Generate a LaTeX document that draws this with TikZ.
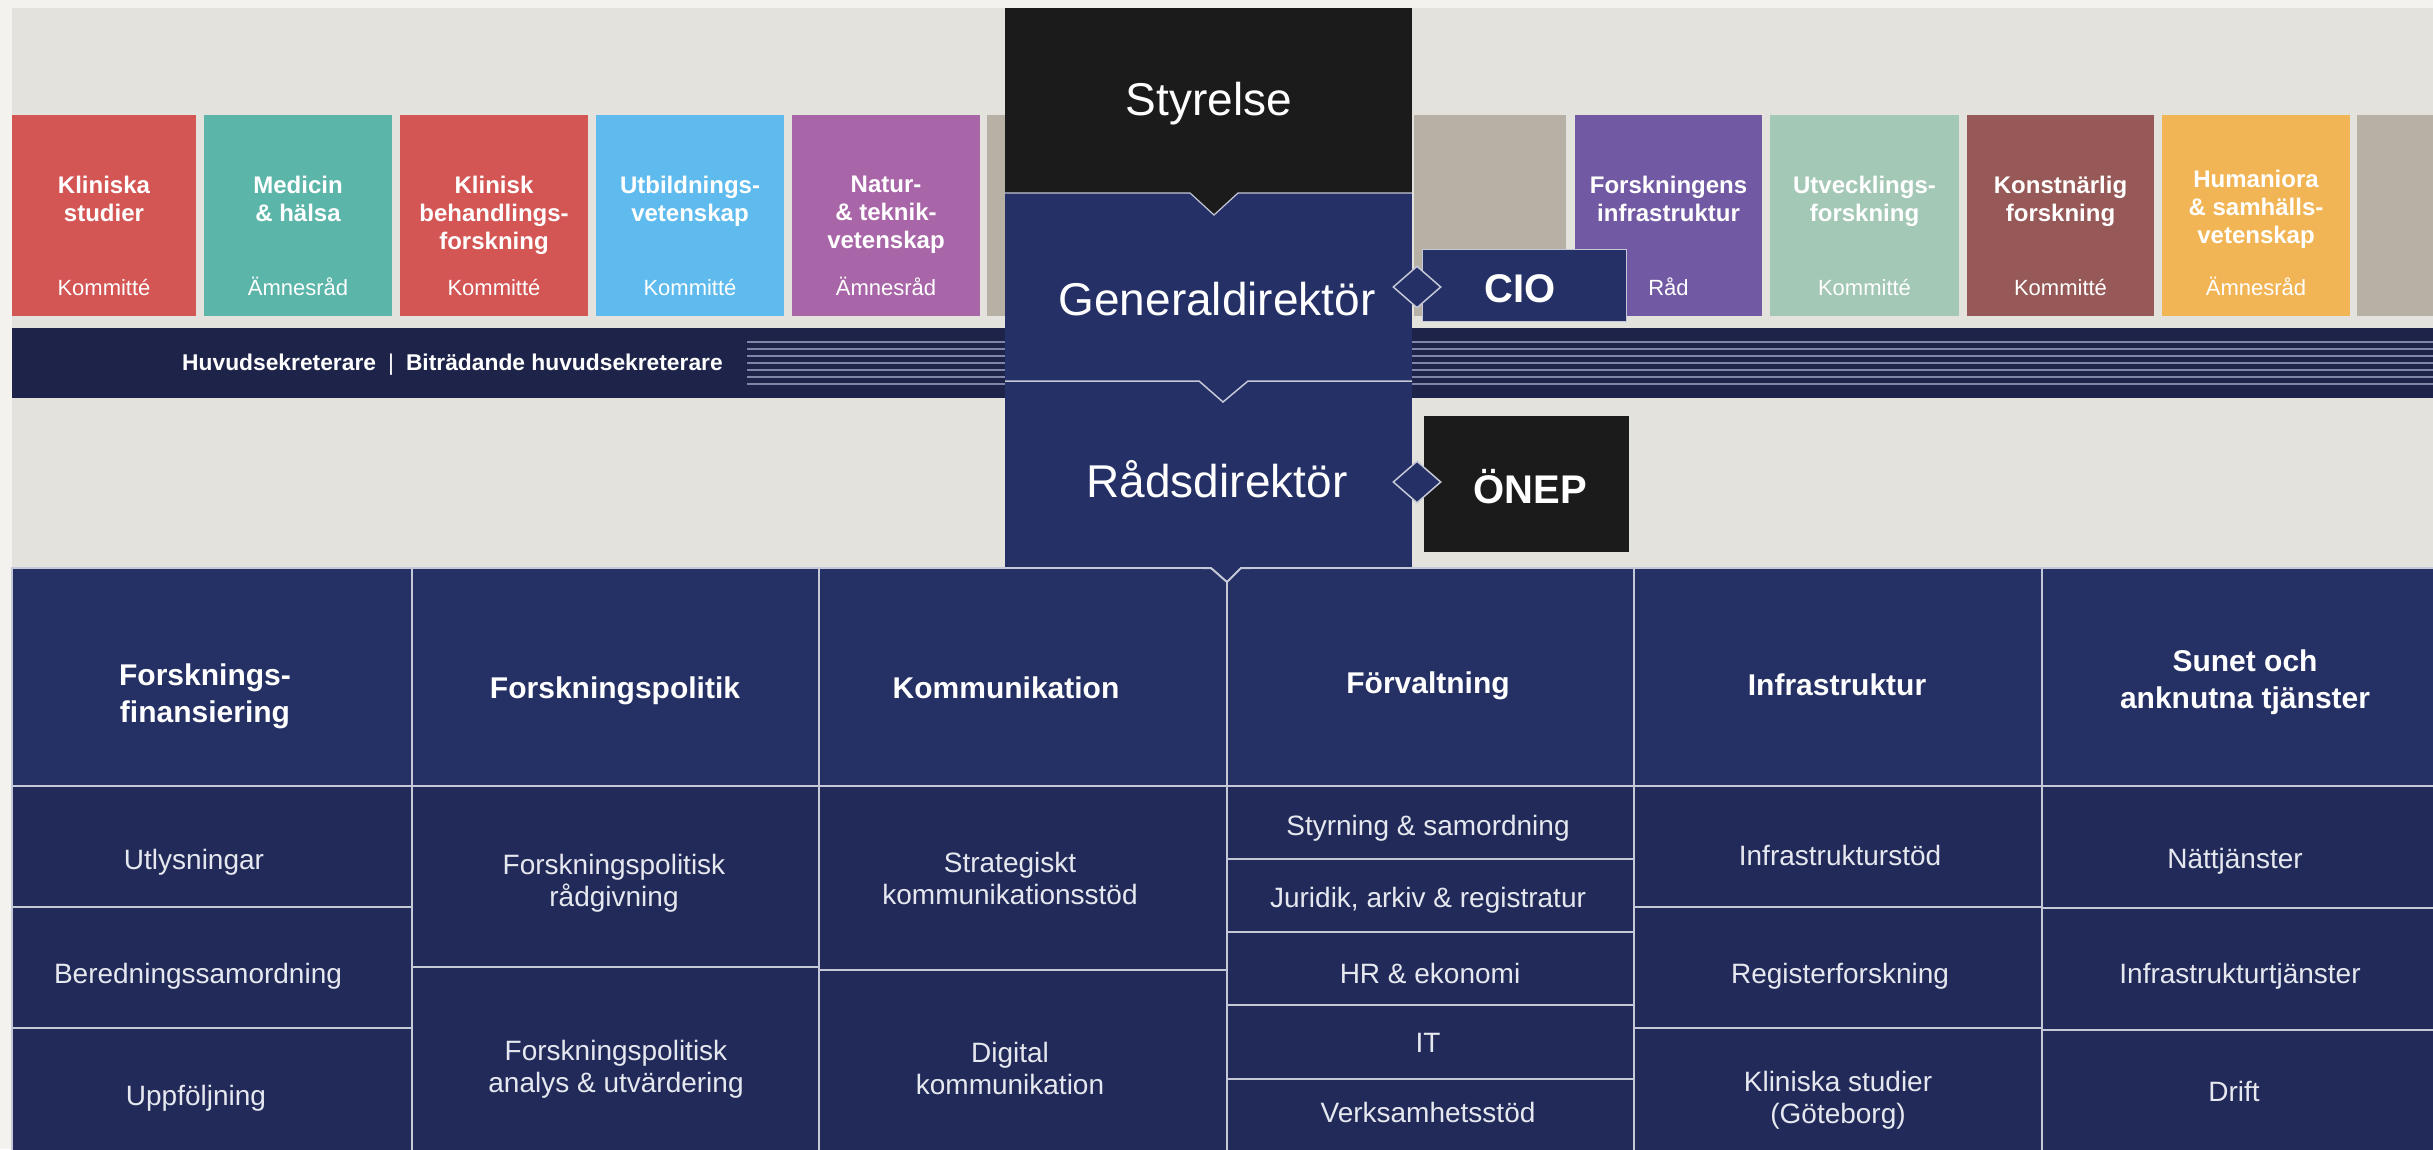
\documentclass[tikz,border=0pt]{standalone}
\usepackage{fontspec}
\setmainfont{Liberation Sans}
\usetikzlibrary{shapes.geometric}
\definecolor{outerbg}{HTML}{F3F2EE}
\definecolor{panelbg}{HTML}{E4E2DC}
\definecolor{cgray}{HTML}{B7B1A5}
\definecolor{cred}{HTML}{D35654}
\definecolor{cteal}{HTML}{5BB5A9}
\definecolor{cblue}{HTML}{5FBBEE}
\definecolor{cpurple}{HTML}{A865A8}
\definecolor{cviolet}{HTML}{7259A3}
\definecolor{cmint}{HTML}{A4C8B6}
\definecolor{cbrown}{HTML}{965957}
\definecolor{corange}{HTML}{F2B555}
\definecolor{navy}{HTML}{243066}
\definecolor{navyhead}{HTML}{253064}
\definecolor{navysub}{HTML}{212A59}
\definecolor{bandcol}{HTML}{1E2449}
\definecolor{blackbox}{HTML}{1B1B1B}
\definecolor{gridline}{HTML}{C5C8D6}
\definecolor{bandline}{HTML}{7F86A8}
\definecolor{subtext}{HTML}{E6E8EF}

\tikzset{
  tbox/.style={inner sep=0, outer sep=0, minimum height=201},
  tboxtitle/.style={inner sep=0, align=center, text=white, font=\bfseries\fontsize{24}{28}\selectfont},
  tboxsub/.style={inner sep=0, text=white, font=\fontsize{22}{26}\selectfont},
  cellbox/.style={draw=gridline, line width=2pt, inner sep=0, outer sep=0},
  headlabel/.style={inner sep=0, align=center, text=white, font=\bfseries\fontsize{30}{37}\selectfont},
  sublabel/.style={inner sep=0, align=center, text=subtext, font=\fontsize{28}{32}\selectfont},
  biglabel/.style={inner sep=0, text=white, font=\fontsize{46}{50}\selectfont},
  plainbox/.style={inner sep=0, outer sep=0, anchor=north west},
  diamondmark/.style={diamond, draw=gridline, fill=navy, line width=1.5pt, minimum width=48, minimum height=42, inner sep=0},
  vline/.style={draw=gridline, line width=2pt, line join=miter},
}

% name x1 x2 colour title sub titletop
\newcommand\topbox[7]{%
  \node[tbox, fill=#4, minimum width={#3-#2}, anchor=north west] (#1) at (#2,115) {};
  \node[tboxtitle, anchor=north] (#1-t) at ({(#2+#3)/2},#7) {#5};
  \node[tboxsub, anchor=base] (#1-s) at ({(#2+#3)/2},295) {#6};
}
% name x1 y1 x2 y2 fill
\newcommand\cellnode[6]{%
  \node[cellbox, fill=#6, minimum width={#4-#2}, minimum height={#5-#3}, anchor=north west] (#1) at (#2,#3) {};
}

\begin{document}
\begin{tikzpicture}[x=1pt,y=-1pt]
\useasboundingbox (0,0) rectangle (2433,1149);
\fill[outerbg] (0,0) rectangle (2433,1149);
\fill[panelbg] (12,8) rectangle (2445,1160);

% coloured boxes
\topbox{k1}{12}{196}{cred}{Kliniska\\studier}{Kommitté}{176}
\topbox{k2}{204}{392}{cteal}{Medicin\\\& hälsa}{Ämnesråd}{176}
\topbox{k3}{400}{588}{cred}{Klinisk\\behandlings-\\forskning}{Kommitté}{176}
\topbox{k4}{596}{784}{cblue}{Utbildnings-\\vetenskap}{Kommitté}{176}
\topbox{k5}{792}{980}{cpurple}{Natur-\\\& teknik-\\vetenskap}{Ämnesråd}{176}
\node[tbox, fill=cgray, minimum width=30, anchor=north west] (g1) at (987,115) {};
\node[tbox, fill=cgray, minimum width=152, anchor=north west] (g2) at (1414,115) {};
\topbox{k8}{1575}{1762}{cviolet}{Forskningens\\infrastruktur}{Råd}{176}
\topbox{k9}{1770}{1959}{cmint}{Utvecklings-\\forskning}{Kommitté}{176}
\topbox{k10}{1967}{2154}{cbrown}{Konstnärlig\\forskning}{Kommitté}{176}
\topbox{k11}{2162}{2350}{corange}{Humaniora\\\& samhälls-\\vetenskap}{Ämnesråd}{170}
\node[tbox, fill=cgray, minimum width=100, anchor=north west] (g3) at (2357,115) {};

% band
\node[plainbox, fill=bandcol, minimum width=2440, minimum height=70] (band) at (12,328) {};
\foreach \yy in {342,349,356,363,370,377,384} {
  \draw[bandline, line width=1.5pt] (747,\yy) -- (1006,\yy);
  \draw[bandline, line width=1.5pt] (1411,\yy) -- (2445,\yy);
}
\node[anchor=base west, inner sep=0, text=white, font=\bfseries\fontsize{22.8}{26}\selectfont] (bandt) at (182,370)
  {Huvudsekreterare\hspace{12pt}{\mdseries|}\hspace{12pt}Biträdande huvudsekreterare};

% central column
\node[plainbox, fill=navy, minimum width=407, minimum height=188] (gen) at (1005,193) {};
\node[plainbox, fill=navy, minimum width=407, minimum height=187] (rad) at (1005,381) {};
\node[plainbox, fill=blackbox, minimum width=407, minimum height=185] (sty) at (1005,8) {};
\fill[blackbox] (1189,192) -- (1214,215) -- (1239,192) -- cycle;
\draw[gridline, line width=1.2pt, line join=miter] (gen.north west) -- (1190,193) -- (1214,215) -- (1238,193) -- (gen.north east);
\draw[gridline, line width=1.5pt, line join=miter] (rad.north west) -- (1199,381) -- (1223,402) -- (1248,381) -- (rad.north east);
\node[biglabel, anchor=base] (styt) at (1209,115) {Styrelse};
\node[biglabel, anchor=base] (gent) at (1217,315) {Generaldirektör};
\node[biglabel, anchor=base] (radt) at (1217,497) {Rådsdirektör};

% CIO and ÖNEP
\node[plainbox, fill=navy, draw=gridline, line width=1pt, minimum width=204, minimum height=72] (cio) at (1422,249) {};
\node[anchor=base, inner sep=0, text=white, font=\bfseries\fontsize{40}{44}\selectfont] (ciot) at (1520,302) {CIO};
\node[plainbox, fill=blackbox, minimum width=205, minimum height=136] (onep) at (1424,416) {};
\node[anchor=base, inner sep=0, text=white, font=\bfseries\fontsize{40}{44}\selectfont] (onept) at (1530,503) {ÖNEP};
\node[diamondmark] (dia1) at (1417,287) {};
\node[diamondmark] (dia2) at (1417,482) {};

% department header row
\cellnode{h1}{12}{568}{412}{786}{navyhead}
\cellnode{h2}{412}{568}{819}{786}{navyhead}
\cellnode{h3}{819}{568}{1227}{786}{navyhead}
\cellnode{h4}{1227}{568}{1634}{786}{navyhead}
\cellnode{h5}{1634}{568}{2042}{786}{navyhead}
\cellnode{h6}{2042}{568}{2445}{786}{navyhead}

% sub units
\cellnode{s11}{12}{786}{412}{907}{navysub}
\cellnode{s12}{12}{907}{412}{1028}{navysub}
\cellnode{s13}{12}{1028}{412}{1160}{navysub}
\cellnode{s21}{412}{786}{819}{967}{navysub}
\cellnode{s22}{412}{967}{819}{1160}{navysub}
\cellnode{s31}{819}{786}{1227}{970}{navysub}
\cellnode{s32}{819}{970}{1227}{1160}{navysub}
\cellnode{s41}{1227}{786}{1634}{859}{navysub}
\cellnode{s42}{1227}{859}{1634}{932}{navysub}
\cellnode{s43}{1227}{932}{1634}{1005}{navysub}
\cellnode{s44}{1227}{1005}{1634}{1079}{navysub}
\cellnode{s45}{1227}{1079}{1634}{1160}{navysub}
\cellnode{s51}{1634}{786}{2042}{907}{navysub}
\cellnode{s52}{1634}{907}{2042}{1028}{navysub}
\cellnode{s53}{1634}{1028}{2042}{1160}{navysub}
\cellnode{s61}{2042}{786}{2445}{908}{navysub}
\cellnode{s62}{2042}{908}{2445}{1030}{navysub}
\cellnode{s63}{2042}{1030}{2445}{1160}{navysub}

% notch under Rådsdirektör
\fill[navy] (1207,566) -- (1245,566) -- (1227,580.5) -- cycle;
\draw[vline] (1203,568) -- (1211,568) -- (1227,582) -- (1241,568) -- (1251,568);

% header labels
\node[headlabel, anchor=north] (h1t) at (205,664) {Forsknings-\\finansiering};
\node[headlabel, anchor=base] (h2t) at (615,698) {Forskningspolitik};
\node[headlabel, anchor=base] (h3t) at (1006,698) {Kommunikation};
\node[headlabel, anchor=base] (h4t) at (1428,693) {Förvaltning};
\node[headlabel, anchor=base] (h5t) at (1837,695) {Infrastruktur};
\node[headlabel, anchor=north] (h6t) at (2245,650) {Sunet och\\anknutna tjänster};

% sub labels
\node[sublabel, anchor=base] (l11) at (194,869) {Utlysningar};
\node[sublabel, anchor=base] (l12) at (198,983) {Beredningssamordning};
\node[sublabel, anchor=base] (l13) at (196,1105) {Uppföljning};
\node[sublabel, anchor=north] (l21) at (614,853.5) {Forskningspolitisk\\rådgivning};
\node[sublabel, anchor=north] (l22) at (616,1039.5) {Forskningspolitisk\\analys \& utvärdering};
\node[sublabel, anchor=north] (l31) at (1010,851.5) {Strategiskt\\kommunikationsstöd};
\node[sublabel, anchor=north] (l32) at (1010,1041.5) {Digital\\kommunikation};
\node[sublabel, anchor=base] (l41) at (1428,835) {Styrning \& samordning};
\node[sublabel, anchor=base] (l42) at (1428,907) {Juridik, arkiv \& registratur};
\node[sublabel, anchor=base] (l43) at (1430,983) {HR \& ekonomi};
\node[sublabel, anchor=base] (l44) at (1428,1052) {IT};
\node[sublabel, anchor=base] (l45) at (1428,1122) {Verksamhetsstöd};
\node[sublabel, anchor=base] (l51) at (1840,865) {Infrastrukturstöd};
\node[sublabel, anchor=base] (l52) at (1840,983) {Registerforskning};
\node[sublabel, anchor=north] (l53) at (1838,1070.5) {Kliniska studier\\(Göteborg)};
\node[sublabel, anchor=base] (l61) at (2235,868) {Nättjänster};
\node[sublabel, anchor=base] (l62) at (2240,983) {Infrastrukturtjänster};
\node[sublabel, anchor=base] (l63) at (2234,1101) {Drift};
\end{tikzpicture}
\end{document}
